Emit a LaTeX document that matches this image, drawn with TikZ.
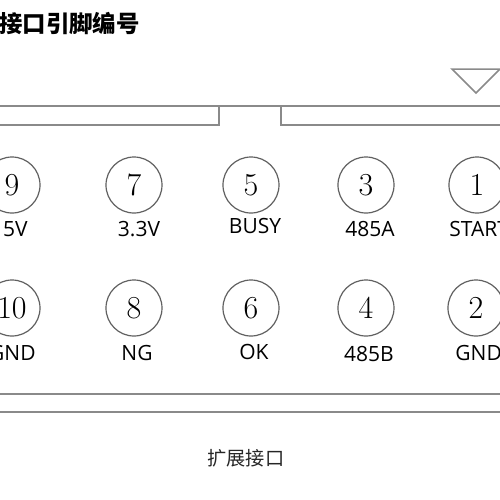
\documentclass[tikz,border=0pt]{standalone}
\usepackage{fontspec}
\newfontfamily\cjk{Noto Sans CJK SC}
\newfontfamily\labfont{Open Sans}
\definecolor{linegray}{HTML}{8A8A8A}
\definecolor{circgray}{HTML}{606060}
\begin{document}
\begin{tikzpicture}[x=0.5pt,y=-0.5pt,
  frame/.style={draw=linegray,line width=0.75pt},
  pin/.style={circle,draw=circgray,line width=0.6pt,minimum size=28pt,inner sep=0pt,font=\fontsize{16}{16}\selectfont},
  lab/.style={inner sep=0pt,font=\labfont\fontsize{10.5}{11}\selectfont},
  title/.style={inner sep=0pt,anchor=west,font=\cjk\bfseries\fontsize{11.7}{12}\selectfont},
  caption/.style={inner sep=0pt,font=\cjk\fontsize{9.6}{10}\selectfont,text=black!85}]
\useasboundingbox (0,0) rectangle (500,500);
% title
\node[title] (t) at (-1,24) {接口引脚编号};
% connector outline
\draw[frame] (0,106) -- (500,106);
\draw[frame] (0,125) -- (219,125) -- (219,106);
\draw[frame] (281,106) -- (281,125) -- (500,125);
\draw[frame] (452,69) -- (500,69) -- (476,93) -- cycle;
\draw[frame] (0,394) -- (500,394);
\draw[frame] (0,412) -- (500,412);
% pins row 1
\node[pin] (p9) at (12,185) {9};
\node[pin] (p7) at (134,185) {7};
\node[pin] (p5) at (251,185) {5};
\node[pin] (p3) at (366,185) {3};
\node[pin] (p1) at (477,185) {1};
% pins row 2
\node[pin] (p10) at (12,308) {10};
\node[pin] (p8) at (134,308) {8};
\node[pin] (p6) at (251,308) {6};
\node[pin] (p4) at (366,308) {4};
\node[pin] (p2) at (476,308) {2};
% labels row 1
\node[lab,anchor=east] (l9) at (28,229) {5V};
\node[lab] (l7) at (139,229) {3.3V};
\node[lab] (l5) at (255,226) {BUSY};
\node[lab] (l3) at (370,229) {485A};
\node[lab,anchor=west] (l1) at (449,229) {START};
% labels row 2
\node[lab,anchor=east] (l10) at (36,353) {GND};
\node[lab] (l8) at (137,353) {NG};
\node[lab] (l6) at (254,352) {OK};
\node[lab] (l4) at (369,354) {485B};
\node[lab,anchor=west] (l2) at (455,353) {GND};
% caption
\node[caption] (c) at (246,458) {扩展接口};
\end{tikzpicture}
\end{document}
